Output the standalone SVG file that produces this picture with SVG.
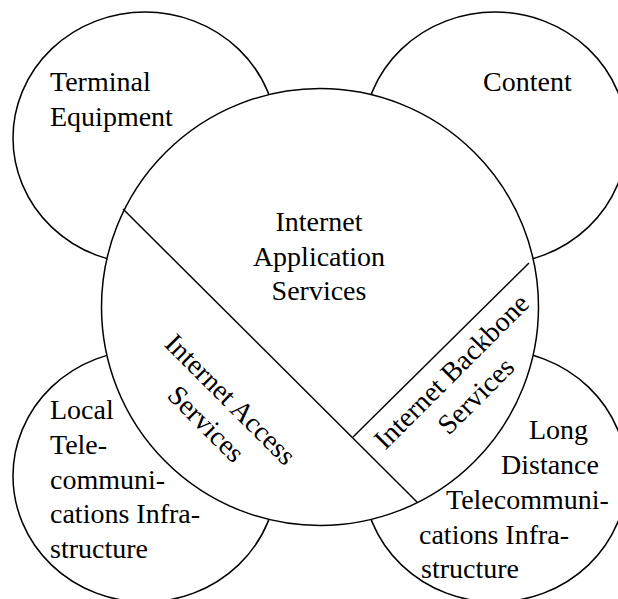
<svg xmlns="http://www.w3.org/2000/svg" width="618" height="599" viewBox="0 0 618 599">
  <style>
    .shape { fill: #ffffff; stroke: #000000; stroke-width: 1.5; }
    .div { stroke: #000000; stroke-width: 1.5; fill: none; }
    text { font-family: "Liberation Serif", "Times New Roman", serif; font-size: 28px; fill: #000000; }
    .c { text-anchor: middle; }
  </style>
  <rect x="0" y="0" width="618" height="599" fill="#ffffff"/>
  <g id="terminal-equipment">
    <ellipse class="shape" cx="145" cy="138" rx="132" ry="126"/>
    <text x="50" y="91">Terminal</text>
    <text x="50" y="126">Equipment</text>
  </g>
  <g id="content">
    <ellipse class="shape" cx="495" cy="138" rx="132" ry="126"/>
    <text x="483" y="91">Content</text>
  </g>
  <g id="local-telecom">
    <ellipse class="shape" cx="145" cy="476" rx="132" ry="126"/>
    <text x="50" y="419">Local</text>
    <text x="50" y="454">Tele-</text>
    <text x="50" y="489">communi-</text>
    <text x="50" y="523">cations Infra-</text>
    <text x="50" y="558">structure</text>
  </g>
  <g id="long-distance-telecom">
    <ellipse class="shape" cx="495" cy="476" rx="132" ry="126"/>
    <text x="529" y="439">Long</text>
    <text x="501" y="474">Distance</text>
    <text x="446" y="509">Telecommuni-</text>
    <text x="419" y="544">cations Infra-</text>
    <text x="421" y="578">structure</text>
  </g>
  <g id="internet-application-services">
    <circle class="shape" cx="320" cy="307" r="218.5"/>
    <text class="c" x="319" y="231">Internet</text>
    <text class="c" x="319" y="265.5">Application</text>
    <text class="c" x="319" y="300">Services</text>
  </g>
  <g id="partitions">
    <line class="div" x1="123" y1="209" x2="417" y2="502"/>
    <line class="div" x1="529" y1="263" x2="353" y2="437"/>
  </g>
  <g id="internet-access-services" transform="translate(224,406) rotate(45)">
    <text class="c" x="0" y="0">Internet Access</text>
    <text class="c" x="0" y="34.5">Services</text>
  </g>
  <g id="internet-backbone-services" transform="translate(458,378) rotate(-45)">
    <text class="c" x="0" y="0">Internet Backbone</text>
    <text class="c" x="0" y="34.5">Services</text>
  </g>
</svg>
